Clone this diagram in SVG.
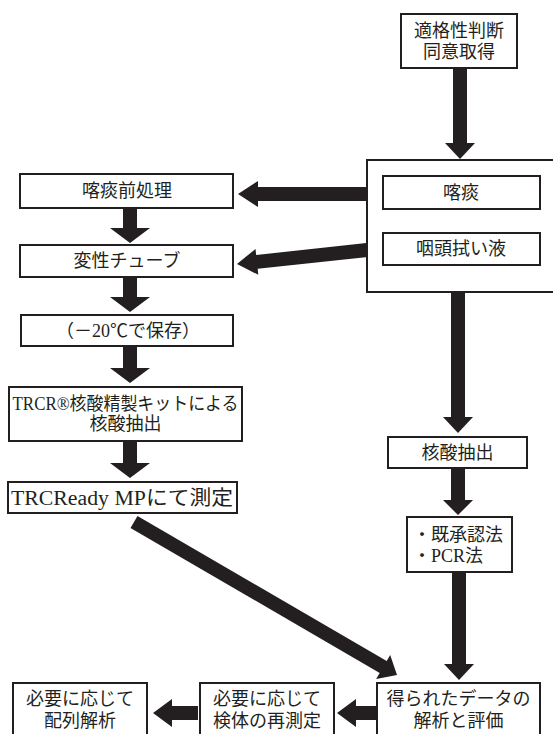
<svg xmlns="http://www.w3.org/2000/svg" width="553" height="734" viewBox="0 0 553 734">
<style>
.box{fill:#fff;stroke:#231f20;stroke-width:2}
.arr{fill:#231f20;stroke:none}
text{font-family:"Liberation Serif","Noto Sans CJK JP",serif;font-size:18px;fill:#231f20;text-anchor:middle;dominant-baseline:central}
.l{text-anchor:start}
</style>
<rect width="553" height="734" fill="#fff"/>
<g id="connectors">
<polygon class="arr" points="453,68 467,68 467,143 475,143 460,159 445,143 453,143"/>
<polygon class="arr" points="367,187 258,187 258,181 238,194 258,207 258,201 367,201"/>
<polygon class="arr" points="366.3,243 256.2,254.9 255.5,248.9 237,264 258.3,274.8 257.7,268.8 367.8,257"/>
<polygon class="arr" points="123,208 137,208 137,228 150,228 130,243 110,228 123,228"/>
<polygon class="arr" points="123,277 137,277 137,297 150,297 130,312 110,297 123,297"/>
<polygon class="arr" points="123,346 137,346 137,368 150,368 130,383 110,368 123,368"/>
<polygon class="arr" points="123,441 137,441 137,463 150,463 130,478 110,463 123,463"/>
<polygon class="arr" points="137.5,516 386.7,660.9 390.2,654.9 397,675 376.1,679.1 379.7,673 130.5,528"/>
<polygon class="arr" points="451,292 465,292 465,417 473,417 458,433 443,417 451,417"/>
<polygon class="arr" points="451,468 465,468 465,500 473,500 458,515 443,500 451,500"/>
<polygon class="arr" points="452,572 466,572 466,664 474,664 459,680 444,664 452,664"/>
<polygon class="arr" points="377,706 356,706 356,699 337,713 356,727 356,720 377,720"/>
<polygon class="arr" points="198,706 172,706 172,699 153,713 172,727 172,720 198,720"/>
</g>
<g id="n-consent">
<rect class="box" x="401" y="14" width="116" height="54"/>
<text x="459" y="31">適格性判断</text>
<text x="459" y="52">同意取得</text>
</g>
<g id="n-specimen">
<rect class="box" x="367" y="160" width="190" height="132"/>
</g>
<g id="n-sputum">
<rect class="box" x="383" y="176" width="157" height="33"/>
<text x="461" y="193">喀痰</text>
</g>
<g id="n-swab">
<rect class="box" x="383" y="233" width="157" height="32"/>
<text x="461" y="249">咽頭拭い液</text>
</g>
<g id="n-pretreat">
<rect class="box" x="20" y="174" width="213" height="34"/>
<text x="127" y="191">喀痰前処理</text>
</g>
<g id="n-tube">
<rect class="box" x="20" y="245" width="213" height="32"/>
<text x="127" y="261">変性チューブ</text>
</g>
<g id="n-store">
<rect class="box" x="21" y="315" width="212" height="31"/>
<text x="128" y="330.5">（－20℃で保存）</text>
</g>
<g id="n-trcr-extract">
<rect class="box" x="9" y="387" width="233" height="54"/>
<text x="125.5" y="404" textLength="226" lengthAdjust="spacingAndGlyphs">TRCR®核酸精製キットによる</text>
<text x="125.5" y="424">核酸抽出</text>
</g>
<g id="n-trcready">
<rect class="box" x="8" y="482" width="229" height="31"/>
<text x="122" y="498" style="font-size:20px" textLength="222" lengthAdjust="spacingAndGlyphs">TRCReady MPにて測定</text>
</g>
<g id="n-extract">
<rect class="box" x="388" y="437" width="139" height="31"/>
<text x="457.5" y="452.5">核酸抽出</text>
</g>
<g id="n-methods">
<rect class="box" x="407" y="517" width="105" height="55"/>
<text class="l" x="413" y="535">・既承認法</text>
<text class="l" x="413" y="556">・PCR法</text>
</g>
<g id="n-analysis">
<rect class="box" x="377" y="683" width="163" height="62"/>
<text x="458.5" y="699">得られたデータの</text>
<text x="458.5" y="721">解析と評価</text>
</g>
<g id="n-remeasure">
<rect class="box" x="200" y="683" width="134" height="62"/>
<text x="267" y="699">必要に応じて</text>
<text x="267" y="721">検体の再測定</text>
</g>
<g id="n-sequence">
<rect class="box" x="13" y="683" width="134" height="62"/>
<text x="80" y="699">必要に応じて</text>
<text x="80" y="721">配列解析</text>
</g>
</svg>
